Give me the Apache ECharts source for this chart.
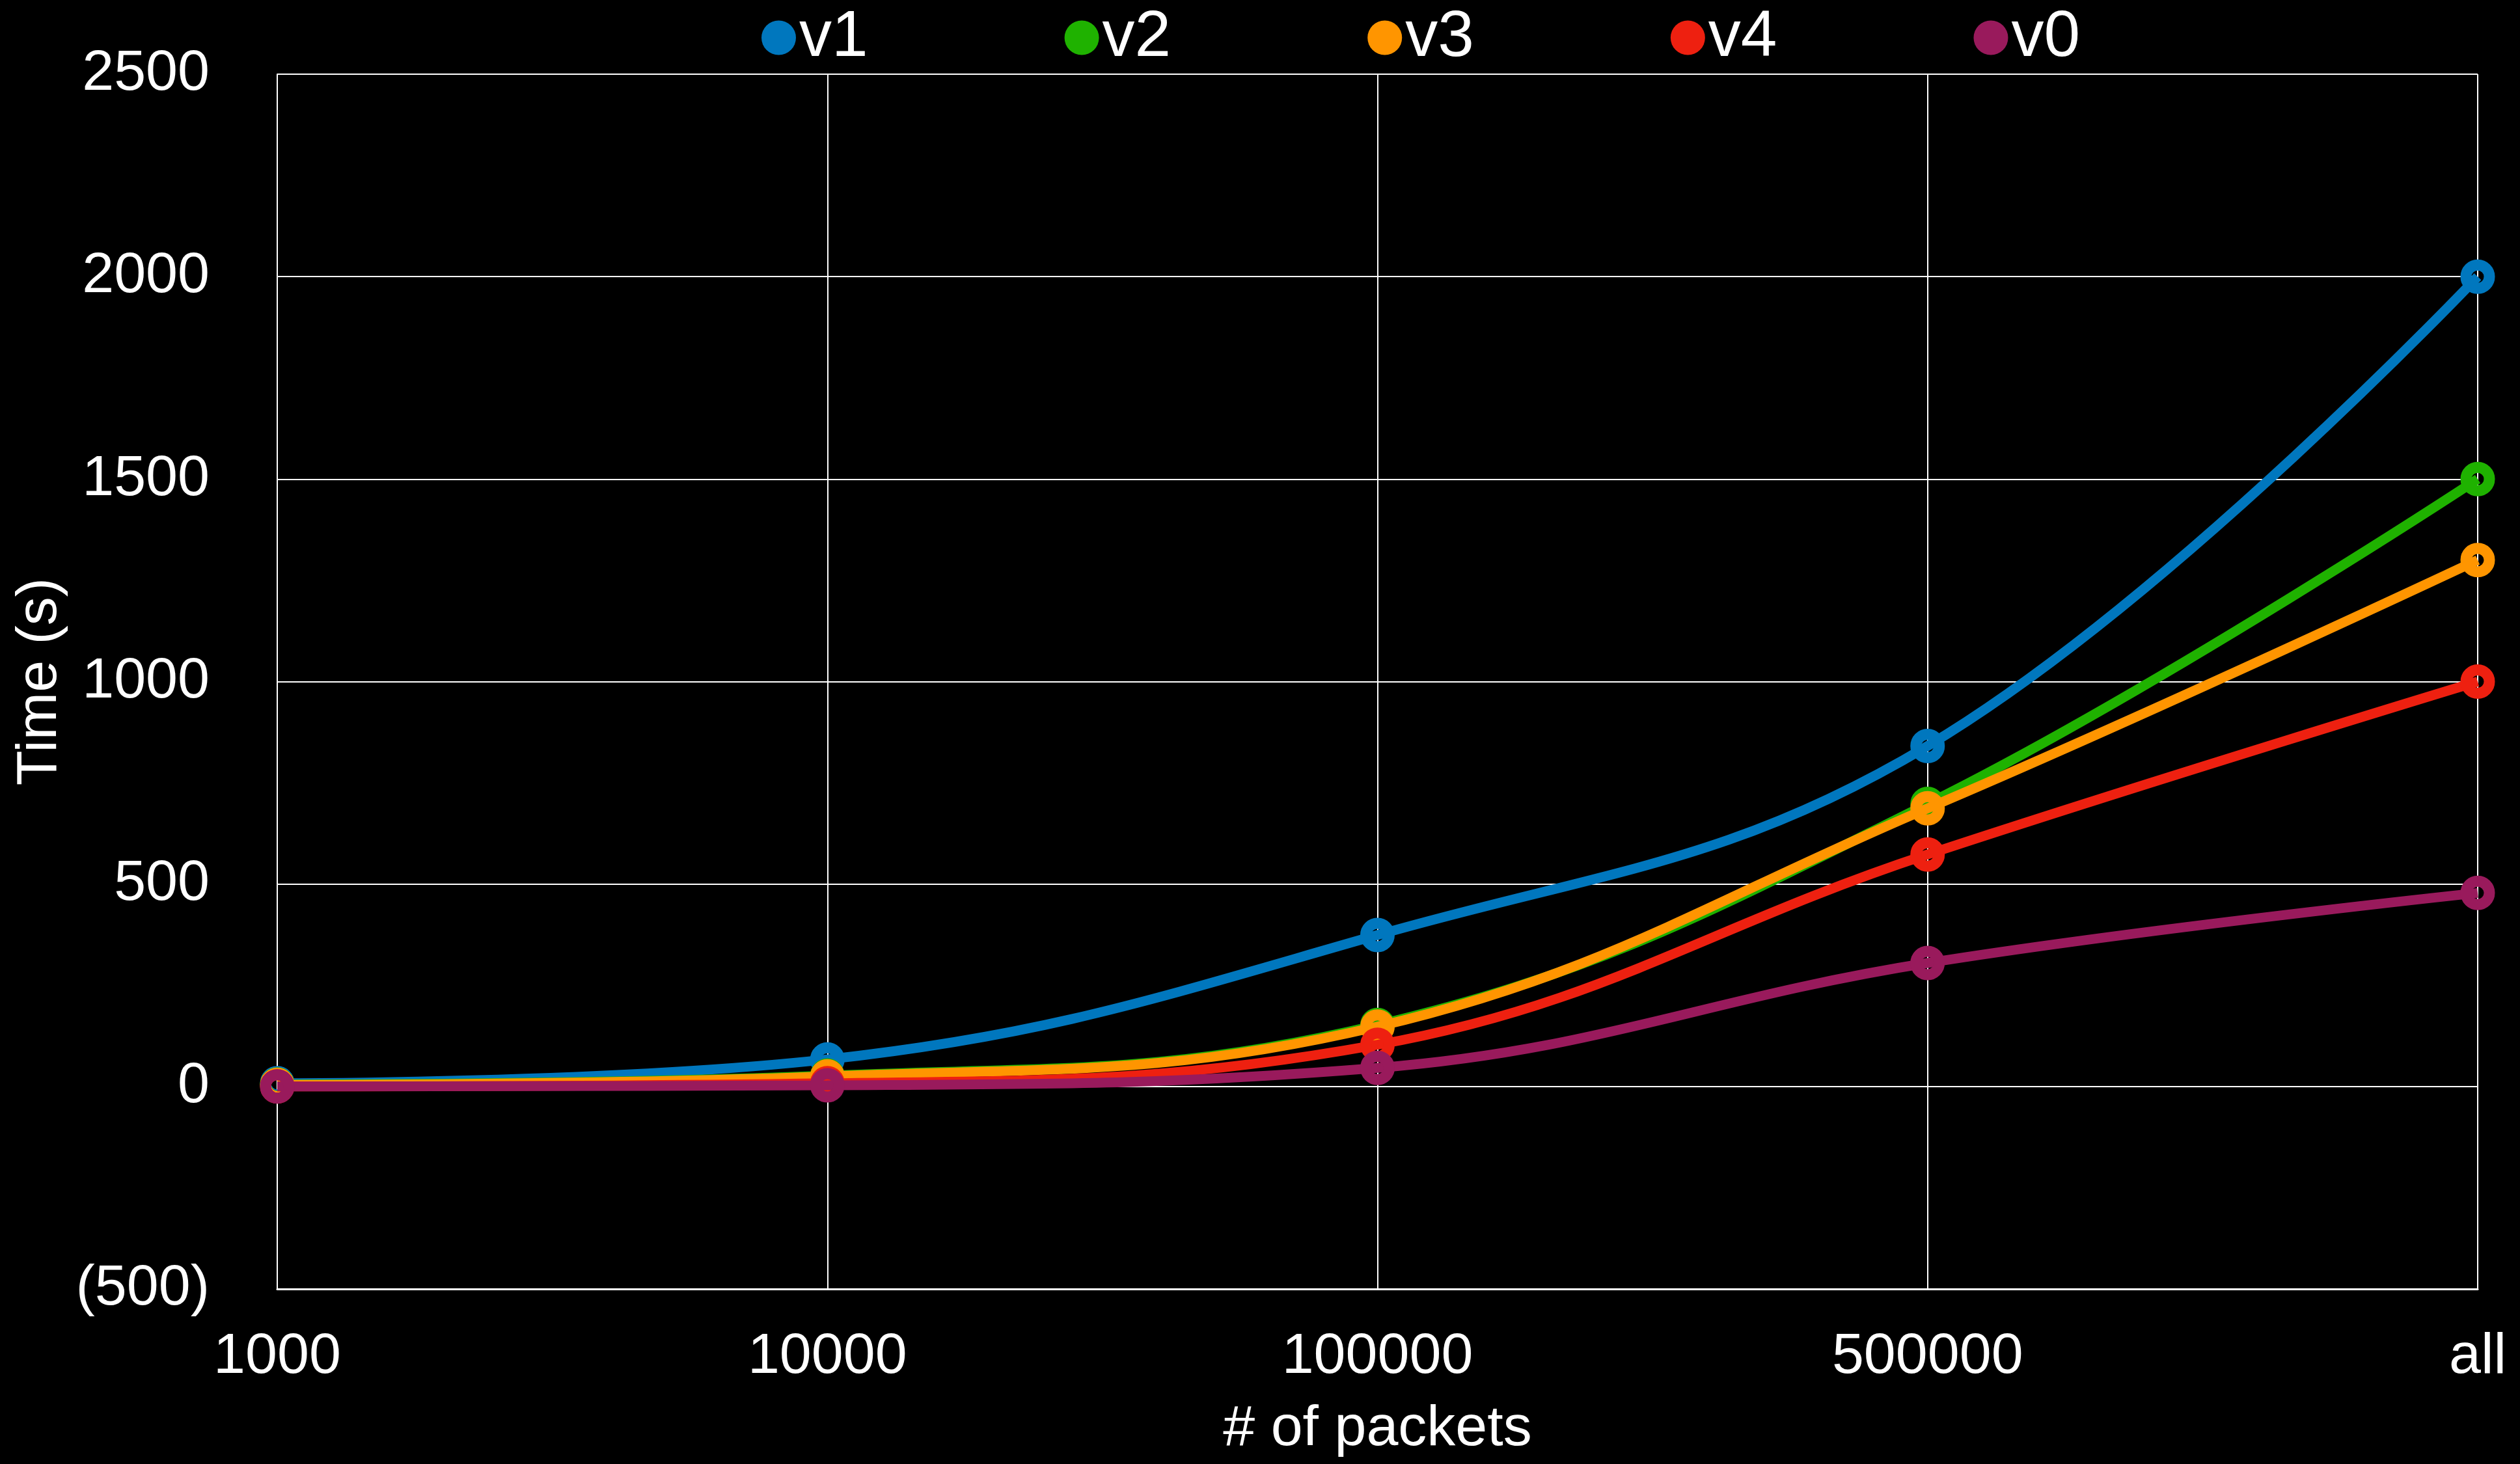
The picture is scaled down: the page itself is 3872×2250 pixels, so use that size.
<!DOCTYPE html>
<html>
<head>
<meta charset="utf-8">
<script src="https://cdn.jsdelivr.net/npm/echarts@6/dist/echarts.min.js"></script>
<style>
  html, body { margin: 0; padding: 0; background: #000; overflow: hidden; }
  #chart { width: 3872px; height: 2250px; }
</style>
</head>
<body>
<div id="chart"></div>
<script>
// packet counts on the x axis
const categories = ['1000', '10000', '100000', '500000', 'all']

// time in seconds per version
const v1 = [8, 67, 374, 841, 2000]
const v2 = [5, 27, 152, 698, 1500]
const v3 = [4, 25, 148, 687, 1300]
const v4 = [0, 8, 103, 573, 1000]
const v0 = [0, 3, 46, 305, 478]

const seriesNames = ['v1', 'v2', 'v3', 'v4', 'v0']
const seriesData = [v1, v2, v3, v4, v0]
const colors = ['#0077BE', '#1FB200', '#FF9500', '#EE2010', '#991A5C']

const font = 'Liberation Sans, Arial, sans-serif'

const chart = echarts.init(document.getElementById('chart'))

const option = {
  backgroundColor: '#000',
  animation: false,
  textStyle: { fontFamily: font },
  legend: {
    data: seriesNames.map((n, i) => ({ name: n, icon: 'circle', itemStyle: { color: colors[i], borderWidth: 0 } })),
    left: 1165,
    top: 3,
    itemWidth: 53,
    itemHeight: 53,
    itemGap: 302,
    textStyle: { color: '#fff', fontSize: 100, fontFamily: font }
  },
  grid: {
    left: 426,
    right: 65,
    top: 114,
    bottom: 269,
    outerBoundsMode: 'none'
  },
  xAxis: {
    type: 'category',
    data: categories,
    boundaryGap: false,
    name: '# of packets',
    nameLocation: 'middle',
    nameGap: 172,
    nameTextStyle: { color: '#fff', fontSize: 88, fontFamily: font },
    axisLine: { onZero: false, lineStyle: { color: '#fff', width: 3 } },
    axisTick: { show: false },
    axisLabel: { color: '#fff', fontSize: 88, margin: 61, fontFamily: font },
    splitLine: { show: true, lineStyle: { color: '#fff', width: 2 } }
  },
  yAxis: {
    type: 'value',
    min: -500,
    max: 2500,
    interval: 500,
    name: 'Time (s)',
    nameLocation: 'middle',
    nameGap: 306,
    nameTextStyle: { color: '#fff', fontSize: 88, fontFamily: font },
    axisLine: { show: true, lineStyle: { color: '#fff', width: 2 } },
    axisTick: { show: false },
    axisLabel: {
      color: '#fff',
      fontSize: 88,
      margin: 104,
      fontFamily: font,
      formatter: v => (v < 0 ? '(' + Math.abs(v) + ')' : String(v))
    },
    splitLine: { show: true, lineStyle: { color: '#fff', width: 2 } }
  },
  series: seriesNames.map((name, i) => ({
    name: name,
    type: 'line',
    data: seriesData[i],
    smooth: 0.4,
    symbol: 'circle',
    symbolSize: 36,
    lineStyle: { color: colors[i], width: 15 },
    itemStyle: { color: 'rgba(0,0,0,0)', borderColor: colors[i], borderWidth: 17 },
    z: 2 + i
  }))
}

chart.setOption(option)
</script>
</body>
</html>
